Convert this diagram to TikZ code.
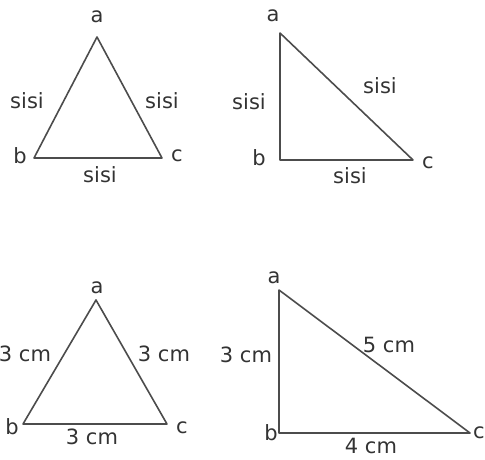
\documentclass[tikz,border=0pt]{standalone}
\usepackage{fontspec}
\setmainfont{DejaVu Sans}
\usetikzlibrary{calc}

\begin{document}
\begin{tikzpicture}[x=1pt, y=-1pt]
    \tikzset{
        side/.style={line width=1.6pt, draw=black!70, line join=round},
        lbl/.style={text=black!80, inner sep=0pt, font=\fontsize{21}{21}\selectfont},
    }
    \useasboundingbox (0,0) rectangle (485,459);

    % --- 1. 等邊三角形 (上左) ---
    \coordinate (A1) at (97,37);
    \coordinate (B1) at (34,158);
    \coordinate (C1) at (162,158);
    \draw[side] (A1) -- (B1) -- (C1) -- cycle;
    \node[lbl] (a1) at (97,17) {a};
    \node[lbl] (b1) at (20,156) {b};
    \node[lbl] (c1) at (177,156) {c};
    \node[lbl] (s1ab) at (27,101) {sisi};
    \node[lbl] (s1ac) at (162,101) {sisi};
    \node[lbl] (s1bc) at (100,175) {sisi};

    % --- 2. 直角三角形 (上右) ---
    \coordinate (A2) at (280,33);
    \coordinate (B2) at (280,160);
    \coordinate (C2) at (413,160);
    \draw[side] (A2) -- (B2) -- (C2) -- cycle;
    \node[lbl] (a2) at (273,16) {a};
    \node[lbl] (b2) at (259,158) {b};
    \node[lbl] (c2) at (428,163) {c};
    \node[lbl] (s2ab) at (249,102) {sisi};
    \node[lbl] (s2ac) at (380,86) {sisi};
    \node[lbl] (s2bc) at (350,176) {sisi};

    % --- 3. 等邊三角形 3 cm (下左) ---
    \coordinate (A3) at (96,300);
    \coordinate (B3) at (23,424);
    \coordinate (C3) at (167,424);
    \draw[side] (A3) -- (B3) -- (C3) -- cycle;
    \node[lbl] (a3) at (97,288) {a};
    \node[lbl] (b3) at (12,427) {b};
    \node[lbl] (c3) at (182,428) {c};
    \node[lbl] (s3ab) at (25,354) {3 cm};
    \node[lbl] (s3ac) at (164,354) {3 cm};
    \node[lbl] (s3bc) at (92,437) {3 cm};

    % --- 4. 直角三角形 3-4-5 (下右) ---
    \coordinate (A4) at (279,290);
    \coordinate (B4) at (279,433);
    \coordinate (C4) at (470,433);
    \draw[side] (A4) -- (B4) -- (C4) -- cycle;
    \node[lbl] (a4) at (274,278) {a};
    \node[lbl] (b4) at (271,433) {b};
    \node[lbl] (c4) at (479,433) {c};
    \node[lbl] (s4ab) at (246,355) {3 cm};
    \node[lbl] (s4ac) at (389,345) {5 cm};
    \node[lbl] (s4bc) at (371,446) {4 cm};

\end{tikzpicture}
\end{document}
